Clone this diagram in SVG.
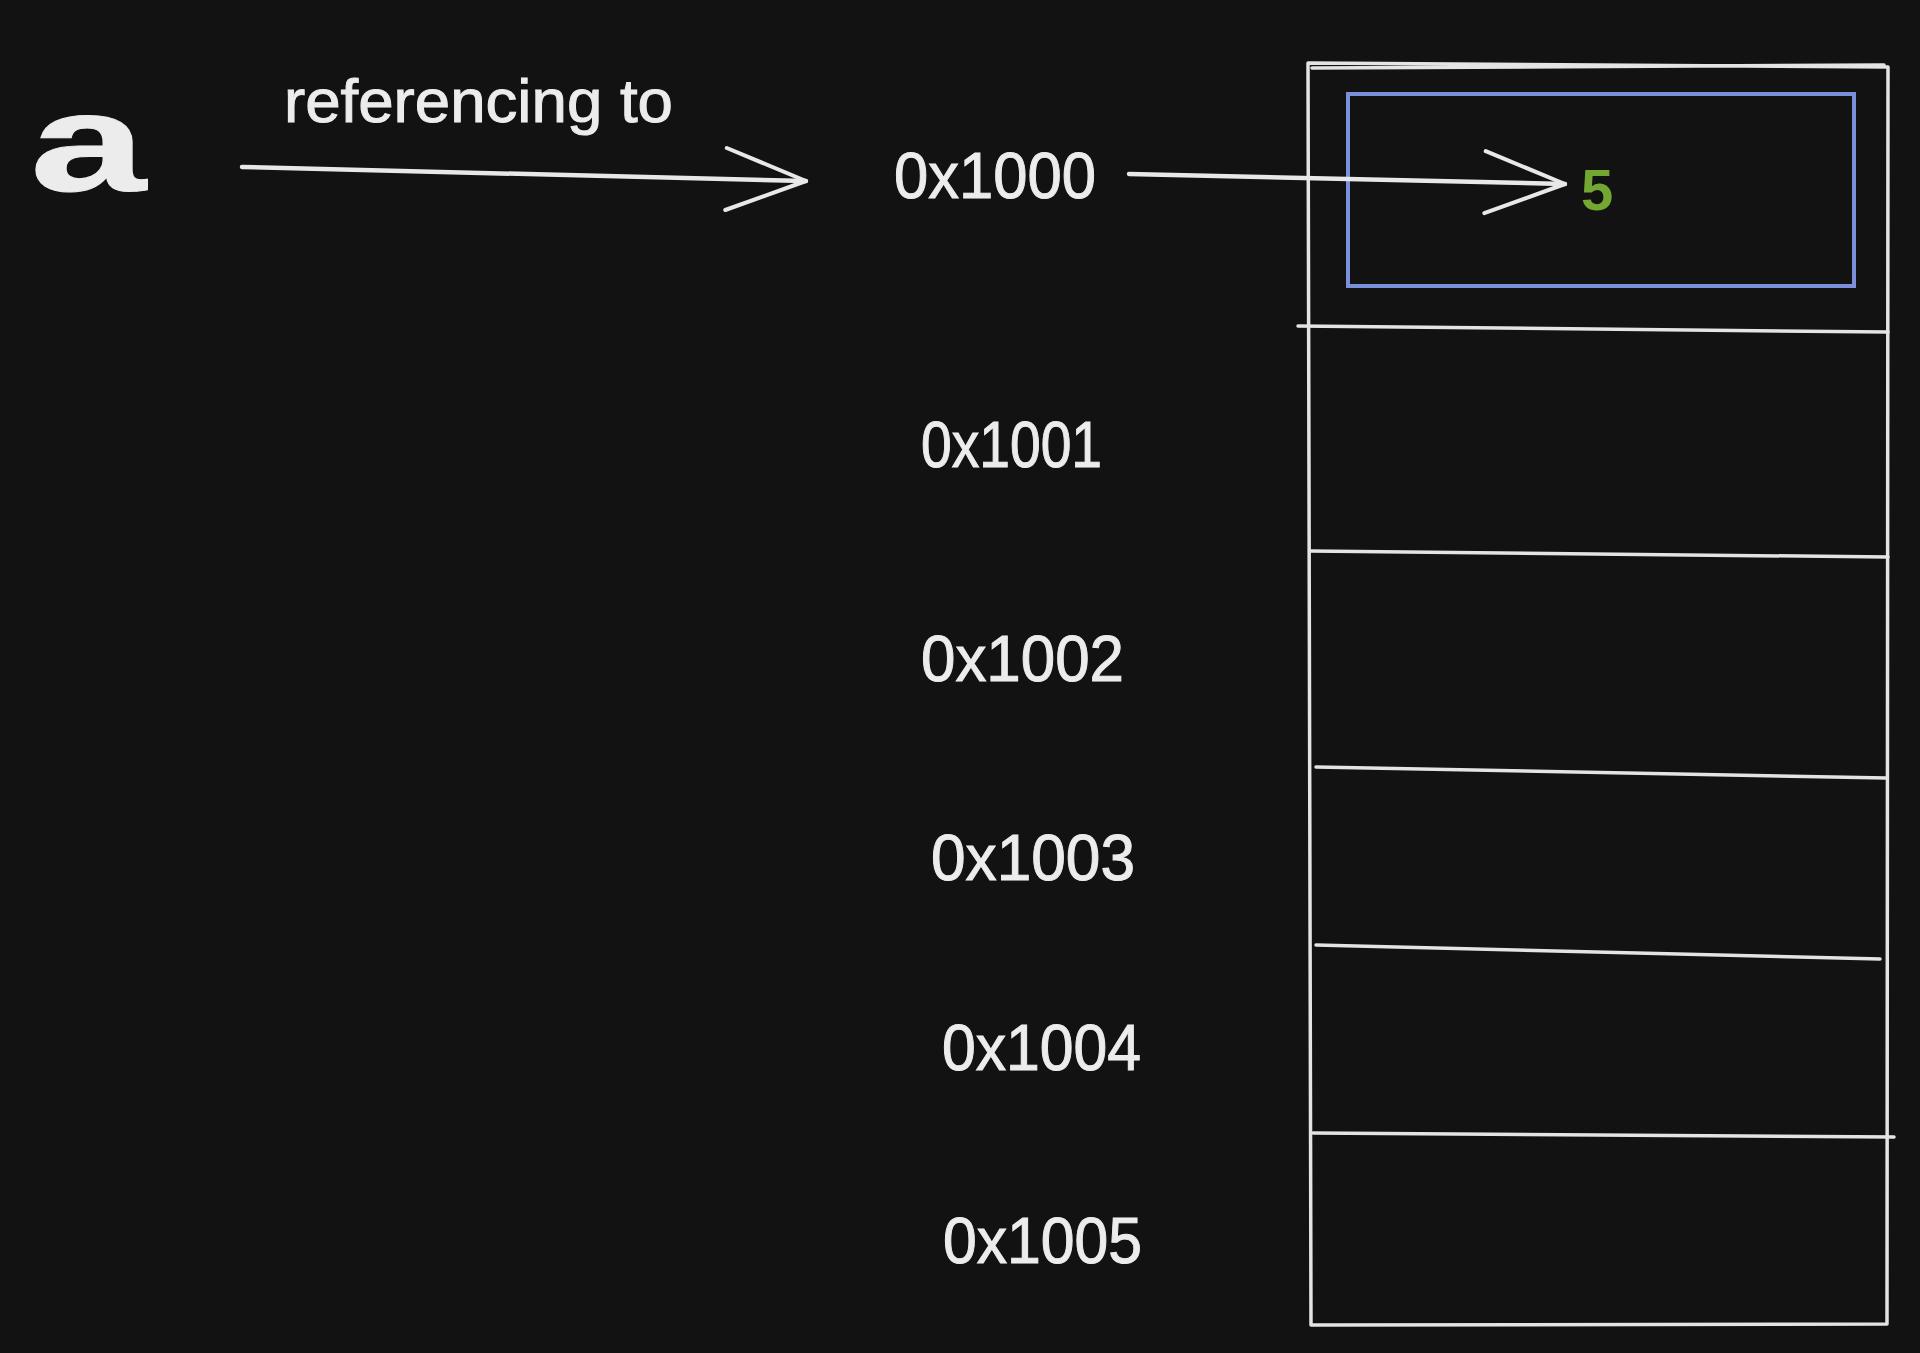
<svg xmlns="http://www.w3.org/2000/svg" width="1920" height="1353" viewBox="0 0 1920 1353">
<style>
.bg{fill:#121212}
.ln{fill:none;stroke:#e4e4e4;stroke-width:3.5;stroke-linecap:round;stroke-linejoin:round}
.ar{fill:none;stroke:#e8e8e8;stroke-width:4.5;stroke-linecap:round}
.txt{fill:#ececec;stroke:#ececec;stroke-width:1;font-family:"Liberation Sans","DejaVu Sans",sans-serif}
.addr{font-size:64px}
.blue{fill:none;stroke:#7b8fdc;stroke-width:4}
.val{fill:#74a632;font-family:"Liberation Sans","DejaVu Sans",sans-serif;font-size:58px;font-weight:bold}
</style>
<defs>
<marker id="chev" markerUnits="userSpaceOnUse" markerWidth="92" markerHeight="74" refX="84" refY="37" orient="auto" viewBox="0 0 92 74">
<path d="M4,6 L84,37 L4,68" fill="none" stroke="#e8e8e8" stroke-width="4" stroke-linecap="round" stroke-linejoin="round"/>
</marker>
</defs>
<rect class="bg" x="0" y="0" width="1920" height="1353"/>

<g id="var-a">
<text class="txt" x="30" y="191" font-size="140" font-weight="bold" textLength="116" lengthAdjust="spacingAndGlyphs">a</text>
</g>

<g id="label-referencing">
<text class="txt" x="284" y="122" font-size="62" textLength="389" lengthAdjust="spacingAndGlyphs">referencing to</text>
</g>

<g id="addr-1000">
<text class="txt addr" x="894" y="198" textLength="202" lengthAdjust="spacingAndGlyphs">0x1000</text>
</g>
<g id="addr-1001">
<text class="txt addr" x="921" y="467" textLength="181" lengthAdjust="spacingAndGlyphs">0x1001</text>
</g>
<g id="addr-1002">
<text class="txt addr" x="921" y="681" textLength="203" lengthAdjust="spacingAndGlyphs">0x1002</text>
</g>
<g id="addr-1003">
<text class="txt addr" x="931" y="880" textLength="204" lengthAdjust="spacingAndGlyphs">0x1003</text>
</g>
<g id="addr-1004">
<text class="txt addr" x="942" y="1070" textLength="199" lengthAdjust="spacingAndGlyphs">0x1004</text>
</g>
<g id="addr-1005">
<text class="txt addr" x="943" y="1263" textLength="199" lengthAdjust="spacingAndGlyphs">0x1005</text>
</g>

<g id="memory">
<path class="ln" d="M1308,63 L1888,67 M1312,68 L1884,65 M1888,67 L1887,1324 M1887,1324 L1311,1325 M1311,1325 L1308,63"/>
<path class="ln" d="M1298,326 L1888,332"/>
<path class="ln" d="M1310,551 L1888,557"/>
<path class="ln" d="M1316,767 L1886,778"/>
<path class="ln" d="M1316,945 L1880,959"/>
<path class="ln" d="M1313,1133 L1894,1137"/>
</g>

<g id="value-5">
<rect class="blue" x="1348" y="94" width="506" height="192"/>
<text class="val" x="1581" y="210">5</text>
</g>

<g id="connectors">
<path class="ar" d="M242,167 L806,181" marker-end="url(#chev)"/>
<path class="ar" d="M1129,174 L1565,184" marker-end="url(#chev)"/>
</g>
</svg>
